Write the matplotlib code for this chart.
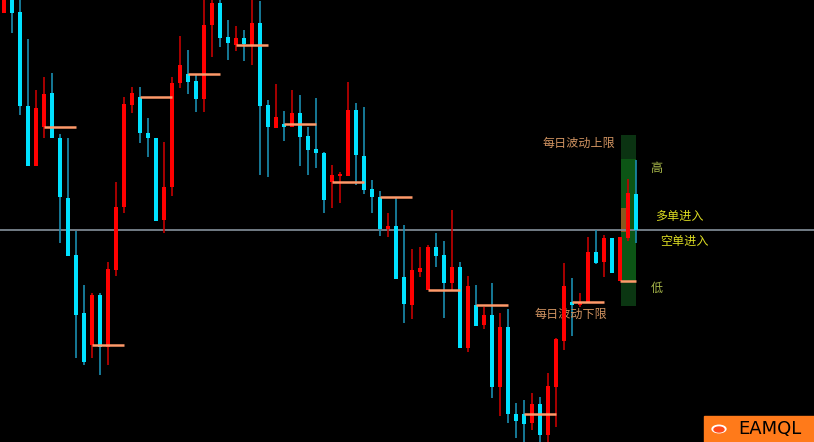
"""Candlestick chart with daily open lines and daily range box."""
import matplotlib
matplotlib.use("Agg")
import matplotlib.pyplot as plt
from matplotlib.patches import Rectangle, Circle, Ellipse

plt.rcParams["font.family"] = ["Noto Sans CJK SC", "DejaVu Sans"]

OPENS = [1.1437, 1.1455, 1.1438, 1.1344, 1.1284, 1.1323, 1.1357, 1.1312, 1.1252, 1.1195,
         1.1137, 1.1105, 1.1155, 1.1103, 1.1180, 1.1243, 1.1345, 1.1353, 1.1317, 1.1312,
         1.1230, 1.1263, 1.1367, 1.1376, 1.1369, 1.1351, 1.1425, 1.1447, 1.1413, 1.1405,
         1.1412, 1.1405, 1.1427, 1.1345, 1.1322, 1.1326, 1.1323, 1.1337, 1.1314, 1.1301,
         1.1297, 1.1268, 1.1274, 1.1274, 1.1340, 1.1294, 1.1261, 1.1253, 1.1221, 1.1224,
         1.1173, 1.1145, 1.1178, 1.1160, 1.1203, 1.1195, 1.1167, 1.1183, 1.1102, 1.1145,
         1.1125, 1.1135, 1.1063, 1.1123, 1.1036, 1.1036, 1.1027, 1.1046, 1.1015, 1.1063,
         1.1109, 1.1148, 1.1145, 1.1147, 1.1198, 1.1188, 1.1212, 1.1169, 1.1212, 1.1256]
HIGHS = [1.1460, 1.1460, 1.1455, 1.1411, 1.1360, 1.1373, 1.1377, 1.1316, 1.1312, 1.1219,
         1.1165, 1.1157, 1.1157, 1.1188, 1.1268, 1.1353, 1.1363, 1.1363, 1.1332, 1.1312,
         1.1308, 1.1373, 1.1414, 1.1400, 1.1375, 1.1453, 1.1455, 1.1453, 1.1430, 1.1424,
         1.1420, 1.1450, 1.1449, 1.1350, 1.1366, 1.1339, 1.1360, 1.1355, 1.1323, 1.1352,
         1.1298, 1.1285, 1.1278, 1.1368, 1.1347, 1.1343, 1.1270, 1.1259, 1.1237, 1.1253,
         1.1225, 1.1201, 1.1203, 1.1205, 1.1217, 1.1209, 1.1240, 1.1188, 1.1174, 1.1165,
         1.1143, 1.1167, 1.1137, 1.1141, 1.1047, 1.1050, 1.1057, 1.1053, 1.1077, 1.1112,
         1.1187, 1.1172, 1.1157, 1.1213, 1.1220, 1.1215, 1.1212, 1.1213, 1.1271, 1.1290]
LOWS = [1.1437, 1.1417, 1.1335, 1.1284, 1.1284, 1.1312, 1.1312, 1.1207, 1.1194, 1.1092,
        1.1085, 1.1092, 1.1075, 1.1085, 1.1174, 1.1237, 1.1337, 1.1307, 1.1293, 1.1229,
        1.1217, 1.1254, 1.1362, 1.1356, 1.1338, 1.1338, 1.1393, 1.1403, 1.1390, 1.1399,
        1.1389, 1.1385, 1.1275, 1.1273, 1.1322, 1.1309, 1.1323, 1.1284, 1.1275, 1.1282,
        1.1237, 1.1242, 1.1247, 1.1274, 1.1265, 1.1256, 1.1237, 1.1214, 1.1213, 1.1171,
        1.1127, 1.1131, 1.1173, 1.1160, 1.1183, 1.1132, 1.1160, 1.1102, 1.1098, 1.1124,
        1.1121, 1.1052, 1.1034, 1.1027, 1.1012, 1.1005, 1.1020, 1.1005, 1.1008, 1.1023,
        1.1100, 1.1114, 1.1143, 1.1147, 1.1186, 1.1173, 1.1177, 1.1169, 1.1209, 1.1207]
CLOSES = [1.1455, 1.1437, 1.1344, 1.1284, 1.1342, 1.1356, 1.1312, 1.1253, 1.1194, 1.1135,
          1.1088, 1.1155, 1.1103, 1.1181, 1.1243, 1.1346, 1.1357, 1.1317, 1.1312, 1.1229,
          1.1263, 1.1367, 1.1385, 1.1368, 1.1351, 1.1425, 1.1447, 1.1412, 1.1407, 1.1412,
          1.1406, 1.1427, 1.1344, 1.1323, 1.1333, 1.1323, 1.1337, 1.1313, 1.1300, 1.1297,
          1.1250, 1.1275, 1.1276, 1.1340, 1.1295, 1.1260, 1.1253, 1.1221, 1.1224, 1.1171,
          1.1146, 1.1180, 1.1182, 1.1203, 1.1194, 1.1167, 1.1183, 1.1102, 1.1164, 1.1124,
          1.1135, 1.1063, 1.1123, 1.1036, 1.1029, 1.1026, 1.1046, 1.1015, 1.1064, 1.1111,
          1.1164, 1.1145, 1.1148, 1.1198, 1.1187, 1.1212, 1.1177, 1.1213, 1.1257, 1.1220]

DAY_FIRST = 5      # first bar of each "day" whose open gets a line
DAY_BARS = 6
UPPER_LIMIT = 1.1315
DAY_HIGH = 1.1291
DAY_LOW = 1.1169
LOWER_LIMIT = 1.1144
LONG_ENTRY = 1.1242
SHORT_ENTRY = 1.1218

UP_BODY, UP_WICK = "#ff0000", "#c40000"
DN_BODY, DN_WICK = "#00e1ff", "#1a8db0"

fig = plt.figure(figsize=(8.14, 4.42), dpi=100, facecolor="black")
ax = fig.add_axes([0, 0, 1, 1])
ax.set_facecolor("black")
ax.set_xlim(-0.5, 101.25)
ax.set_ylim(1.1008, 1.1450)
ax.axis("off")

# range box on the last day
bx0, bx1 = 77.1, 79.0
ax.add_patch(Rectangle((bx0, DAY_HIGH), bx1 - bx0, UPPER_LIMIT - DAY_HIGH,
                       color="#0b3312", zorder=1, lw=0))
ax.add_patch(Rectangle((bx0, DAY_LOW), bx1 - bx0, DAY_HIGH - DAY_LOW,
                       color="#0c5515", zorder=1, lw=0))
ax.add_patch(Rectangle((bx0, LOWER_LIMIT), bx1 - bx0, DAY_LOW - LOWER_LIMIT,
                       color="#0b3612", zorder=1, lw=0))
ax.add_patch(Rectangle((bx0, SHORT_ENTRY), 0.9, LONG_ENTRY - SHORT_ENTRY,
                       color="#8a581e", zorder=1.5, lw=0))

# current price line
ax.axhline(CLOSES[-1], color="#7a8590", lw=1.3, zorder=2)

for i, (o, h, l, c) in enumerate(zip(OPENS, HIGHS, LOWS, CLOSES)):
    up = c >= o
    ax.vlines(i, l, h, color=UP_WICK if up else DN_WICK, lw=1.2, zorder=3)
    lo, hi = min(o, c), max(o, c)
    ax.add_patch(Rectangle((i - 0.31, lo), 0.62, max(hi - lo, 0.00008),
                           color=UP_BODY if up else DN_BODY, lw=0, zorder=4))

# daily open segments
for k in range(DAY_FIRST, len(OPENS), DAY_BARS):
    ax.hlines(OPENS[k], k, min(k + 4, len(OPENS) - 1), color="#ff9a6a",
              lw=1.8, zorder=5)

tan = "#cf9260"
ax.text(76.4, 1.1307, "每日波动上限", color=tan, fontsize=8.7, ha="right", va="center")
ax.text(75.4, 1.1136, "每日波动下限", color=tan, fontsize=8.7, ha="right", va="center")
ax.text(81.6, 1.1281, "高", color="#a8b84a", fontsize=8.7, ha="center", va="center")
ax.text(81.6, 1.1162, "低", color="#a8b84a", fontsize=8.7, ha="center", va="center")
ax.text(81.4, 1.1234, "多单进入", color="#dcdc22", fontsize=8.7, ha="left", va="center")
ax.text(82.0, 1.1209, "空单进入", color="#dcdc22", fontsize=8.7, ha="left", va="center")

# logo
fig.patches.append(Rectangle((704 / 814, 0), 110 / 814, 26 / 442, color="#ff7a1a",
                             transform=fig.transFigure, zorder=10))
fig.patches.append(Circle((719 / 814, 13 / 442), 0.0085, color="white",
                          transform=fig.transFigure, zorder=11))
fig.patches.append(Ellipse((719 / 814, 12.5 / 442), 10 / 814, 5 / 442, color="#ff4a1a",
                           transform=fig.transFigure, zorder=12))
fig.text(738 / 814, 13 / 442, "EAMQL", color="black", fontsize=13,
         family="DejaVu Sans", ha="left", va="center", zorder=13)

fig.savefig("out.png", dpi=100, facecolor="black")
